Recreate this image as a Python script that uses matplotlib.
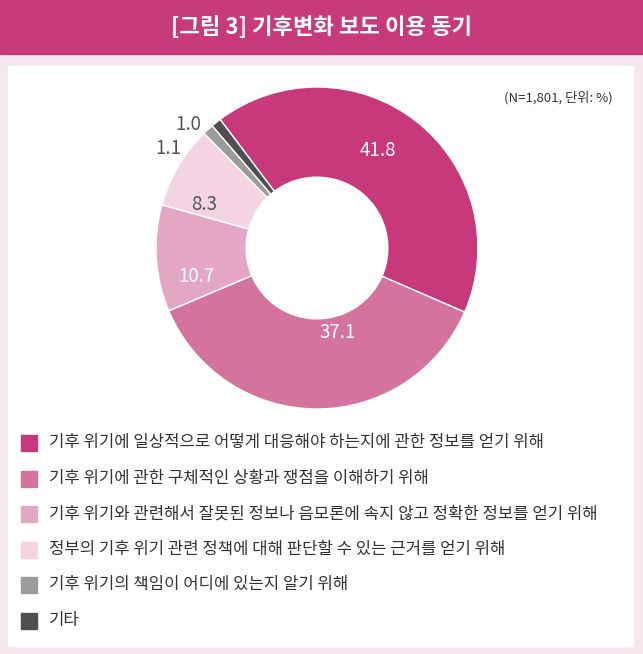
import matplotlib.pyplot as plt
from matplotlib.patches import Rectangle

plt.rcParams['font.family'] = ['Noto Sans CJK KR', 'DejaVu Sans']

labels = ['기후 위기에 일상적으로 어떻게 대응해야 하는지에 관한 정보를 얻기 위해',
          '기후 위기에 관한 구체적인 상황과 쟁점을 이해하기 위해',
          '기후 위기와 관련해서 잘못된 정보나 음모론에 속지 않고 정확한 정보를 얻기 위해',
          '정부의 기후 위기 관련 정책에 대해 판단할 수 있는 근거를 얻기 위해',
          '기후 위기의 책임이 어디에 있는지 알기 위해',
          '기타']
values = [41.8, 37.1, 10.7, 8.3, 1.1, 1.0]
colors = ['#C8397C', '#D5739F', '#E4A7C3', '#F4D4E2', '#9B9B9B', '#4F4F4F']

W, H = 643, 654
fig = plt.figure(figsize=(W / 100, H / 100), dpi=100)
fig.patch.set_facecolor('#F6E6EE')

# header band and white panel
fig.add_artist(Rectangle((0, 1 - 54 / H), 1, 54 / H, transform=fig.transFigure,
                         color='#C73A7B', zorder=0))
fig.add_artist(Rectangle((8 / W, 8 / H), 625 / W, (654 - 74) / H, transform=fig.transFigure,
                         color='white', zorder=0))
fig.text(0.5, 1 - 27 / H, '[그림 3] 기후변화 보도 이용 동기', color='white',
         fontsize=16, fontweight='bold', ha='center', va='center')
fig.text(613 / W, 1 - 98 / H, '(N=1,801, 단위: %)', fontsize=9.5, ha='right', va='center',
         color='#333333')

# donut
cx, cy, r = 317, 248, 161
ax = fig.add_axes([(cx - r) / W, 1 - (cy + r) / H, 2 * r / W, 2 * r / H])
ax.pie(values, colors=colors, startangle=127, counterclock=False,
       wedgeprops=dict(width=0.56, edgecolor='white', linewidth=1))
ax.set_xlim(-1, 1)
ax.set_ylim(-1, 1)
ax.set_aspect('equal')
ax.axis('off')

# value labels (pixel coordinates of figure)
label_pos = [(378, 150, 'white'), (338, 332, 'white'), (197, 276, 'white'),
             (204, 204, '#555555'), (168, 149, '#555555'), (188, 125, '#555555')]
for v, (x, y, c) in zip(values, label_pos):
    fig.text(x / W, 1 - y / H, f'{v}', fontsize=13.5, color=c, ha='center', va='center')

# legend
for i, (lab, c) in enumerate(zip(labels, colors)):
    y = 443 + i * 35.5
    fig.add_artist(Rectangle((21 / W, 1 - (y + 8) / H), 16 / W, 16 / H,
                             transform=fig.transFigure, color=c))
    fig.text(49 / W, 1 - y / H, lab, fontsize=12, va='center', color='#333333')

fig.savefig('out.png', dpi=100, facecolor=fig.get_facecolor())
